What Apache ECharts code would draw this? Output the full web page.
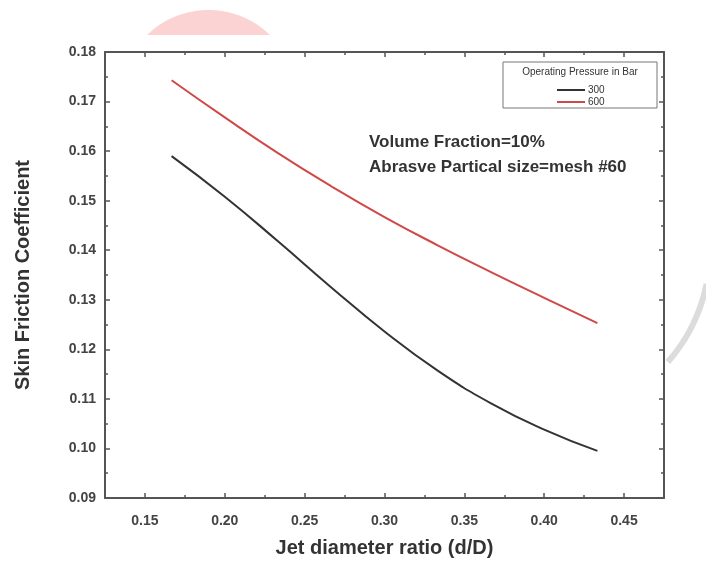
<!DOCTYPE html>
<html>
<head>
<meta charset="utf-8">
<script src="https://cdn.jsdelivr.net/npm/echarts@6/dist/echarts.min.js"></script>
<style>
  html, body { margin: 0; padding: 0; background: #fff; }
  #chart { width: 706px; height: 562px; }
</style>
</head>
<body>
<div id="chart"></div>
<script>
// Jet diameter ratio (d/D) sample positions
const ratio = [0.1667, 0.2000, 0.2333, 0.2667, 0.3000, 0.3333, 0.3667, 0.4000, 0.4333];
// Skin friction coefficient at 300 bar and 600 bar
const cf300 = [0.1590, 0.1508, 0.1418, 0.1325, 0.1236, 0.1157, 0.1091, 0.1038, 0.0995];
const cf600 = [0.1743, 0.1668, 0.1596, 0.1529, 0.1467, 0.1410, 0.1356, 0.1304, 0.1253];
const seriesNames = ['300', '600'];
const xMajor = [0.15, 0.20, 0.25, 0.30, 0.35, 0.40, 0.45];
const xMinor = [0.175, 0.225, 0.275, 0.325, 0.375, 0.425];

const FONT = '"Liberation Sans", Arial, sans-serif';
const AXIS_COLOR = '#555';
const X_MIN = 0.125, X_MAX = 0.475;

function pair(xs, ys) { return xs.map((x, i) => [x, ys[i]]); }

// circular segment above a horizontal chord (page decoration)
function segmentPoints(cx, cy, r, chordY) {
  const pts = [];
  const half = Math.acos((cy - chordY) / r);
  for (let i = 0; i <= 40; i++) {
    const a = -Math.PI / 2 - half + (2 * half * i) / 40;
    pts.push([cx + r * Math.cos(a), cy + r * Math.sin(a)]);
  }
  return pts;
}

function xAx(pos, ticks, len, showLine, labels) {
  return {
    type: 'value', position: pos, min: X_MIN, max: X_MAX,
    axisLine: { show: showLine, onZero: false, lineStyle: { color: AXIS_COLOR, width: 2 } },
    axisTick: { show: true, inside: true, length: len, customValues: ticks, lineStyle: { color: AXIS_COLOR, width: 1.5 } },
    axisLabel: labels ? {
      show: true, customValues: ticks, margin: 16,
      color: '#444', fontFamily: FONT, fontWeight: 'bold', fontSize: 14,
      formatter: v => v.toFixed(2)
    } : { show: false },
    splitLine: { show: false }
  };
}

const chart = echarts.init(document.getElementById('chart'), null, { renderer: 'canvas' });

const xMain = xAx('bottom', xMajor, 5, true, true);
xMain.name = 'Jet diameter ratio (d/D)';
xMain.nameLocation = 'middle';
xMain.nameGap = 40;
xMain.nameTextStyle = { color: '#333', fontFamily: FONT, fontWeight: 'bold', fontSize: 20 };

chart.setOption({
  animation: false,
  backgroundColor: '#fff',
  grid: { left: 105, right: 42, top: 52, bottom: 64, outerBoundsMode: 'none', containLabel: false },
  graphic: [
    // faint marks in the page background
    { type: 'polygon', z: -10, silent: true,
      shape: { points: segmentPoints(208.5, 98, 88, 35) },
      style: { fill: '#fbd3d3' } },
    { type: 'arc', z: -10, silent: true,
      shape: { cx: 540, cy: 250, r: 170, startAngle: 0.2, endAngle: 0.72, clockwise: true },
      style: { fill: null, stroke: '#dcdcdc', lineWidth: 6 } },
    // legend frame and heading
    { type: 'rect', z: 5, shape: { x: 503, y: 62, width: 154, height: 46 },
      style: { fill: '#fff', stroke: '#777', lineWidth: 1 } },
    { type: 'text', z: 6, x: 580, y: 72,
      style: { text: 'Operating Pressure in Bar', fill: '#333', font: '10px ' + FONT, align: 'center', verticalAlign: 'middle' } },
    // annotation text
    { type: 'text', z: 6, x: 369, y: 142,
      style: { text: 'Volume Fraction=10%', fill: '#333', font: 'bold 17px ' + FONT, verticalAlign: 'middle' } },
    { type: 'text', z: 6, x: 369, y: 167,
      style: { text: 'Abrasve Partical size=mesh #60', fill: '#333', font: 'bold 17px ' + FONT, verticalAlign: 'middle' } }
  ],
  legend: {
    z: 7,
    orient: 'vertical', left: 552, top: 80,
    itemGap: 2, itemWidth: 28, itemHeight: 2, icon: 'rect',
    textStyle: { fontFamily: FONT, fontSize: 10, color: '#333', padding: [0, 0, 0, -2] },
    data: seriesNames
  },
  xAxis: [
    xMain,
    xAx('bottom', xMinor, 3, false, false),
    xAx('top', xMajor, 5, true, false),
    xAx('top', xMinor, 3, false, false)
  ],
  yAxis: [
    {
      type: 'value', position: 'left', min: 0.09, max: 0.18, interval: 0.01,
      name: 'Skin Friction Coefficient', nameLocation: 'middle', nameGap: 72,
      nameTextStyle: { color: '#333', fontFamily: FONT, fontWeight: 'bold', fontSize: 20 },
      axisLine: { show: true, lineStyle: { color: AXIS_COLOR, width: 2 } },
      axisTick: { show: true, inside: true, length: 5, lineStyle: { color: AXIS_COLOR, width: 1.5 } },
      minorTick: { show: true, splitNumber: 2, length: 3, lineStyle: { color: AXIS_COLOR, width: 1.5 } },
      axisLabel: { margin: 9, color: '#444', fontFamily: FONT, fontWeight: 'bold', fontSize: 14, formatter: v => v.toFixed(2) },
      splitLine: { show: false }
    },
    {
      type: 'value', position: 'right', min: 0.09, max: 0.18, interval: 0.01,
      axisLine: { show: true, lineStyle: { color: AXIS_COLOR, width: 2 } },
      axisTick: { show: true, inside: true, length: 5, lineStyle: { color: AXIS_COLOR, width: 1.5 } },
      minorTick: { show: true, splitNumber: 2, length: 3, lineStyle: { color: AXIS_COLOR, width: 1.5 } },
      axisLabel: { show: false },
      splitLine: { show: false }
    }
  ],
  series: [
    {
      name: seriesNames[0], type: 'line', smooth: true, showSymbol: false,
      color: '#333', lineStyle: { width: 2, color: '#333' },
      data: pair(ratio, cf300)
    },
    {
      name: seriesNames[1], type: 'line', smooth: true, showSymbol: false,
      color: '#d04848', lineStyle: { width: 2, color: '#d04848' },
      data: pair(ratio, cf600)
    }
  ]
});
</script>
</body>
</html>
